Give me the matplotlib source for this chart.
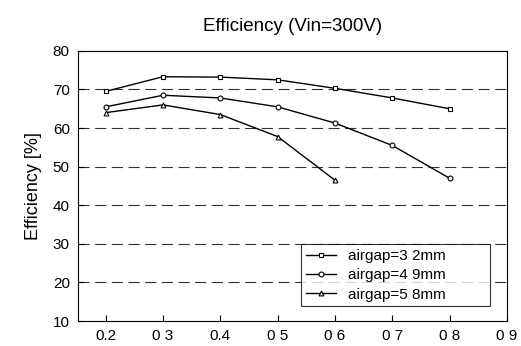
import matplotlib.pyplot as plt
from matplotlib.ticker import FixedLocator, FixedFormatter

plt.rcParams['font.family'] = ['Liberation Sans', 'DejaVu Sans']

x = [0.2, 0.3, 0.4, 0.5, 0.6, 0.7, 0.8]
eff_32 = [69.5, 73.3, 73.2, 72.5, 70.3, 67.8, 65.0]
eff_49 = [65.5, 68.5, 67.8, 65.5, 61.3, 55.5, 47.0]
x_58 = [0.2, 0.3, 0.4, 0.5, 0.6]
eff_58 = [64.0, 66.0, 63.5, 57.8, 46.5]

xticks = [0.2, 0.3, 0.4, 0.5, 0.6, 0.7, 0.8, 0.9]
xticklabels = ["0.2", "0 3", "0.4", "0 5", "0 6", "0 7", "0 8", "0 9"]
yticks = [10, 20, 30, 40, 50, 60, 70, 80]
labels = ["airgap=3 2mm", "airgap=4 9mm", "airgap=5 8mm"]

fig = plt.figure(figsize=(5.21, 3.46), dpi=100)
ax = fig.add_axes([0.15, 0.072, 0.823, 0.781])

ax.plot(x, eff_32, color='black', lw=1.0, marker='s', ms=3.5, mfc='white', mew=0.8, label=labels[0])
ax.plot(x, eff_49, color='black', lw=1.0, marker='o', ms=3.5, mfc='white', mew=0.8, label=labels[1])
ax.plot(x_58, eff_58, color='black', lw=1.0, marker='^', ms=3.5, mfc='white', mew=0.8, label=labels[2])

for yv in yticks[1:-1]:
    ax.axhline(yv, color='#333333', lw=0.8, ls=(0, (10, 5)), zorder=0)

ax.set_xlim(0.152, 0.9)
ax.set_ylim(10, 80)
ax.xaxis.set_major_locator(FixedLocator(xticks))
ax.xaxis.set_major_formatter(FixedFormatter(xticklabels))
ax.set_yticks(yticks)
ax.tick_params(direction='in', length=4, labelsize=11, pad=6)

ax.set_ylabel("Efficiency [%]", fontsize=13, labelpad=8)
ax.set_title("Efficiency (Vin=300V)", fontsize=13.5, pad=14)

leg = ax.legend(loc='lower left', bbox_to_anchor=(0.52, 0.055, 0.44, 0.28), mode='expand',
                fontsize=11, frameon=True, fancybox=False, edgecolor='black',
                handlelength=2.0, borderaxespad=0, labelspacing=0.35, borderpad=0.3)
leg.get_frame().set_linewidth(0.8)

fig.savefig("out.png", dpi=100)
